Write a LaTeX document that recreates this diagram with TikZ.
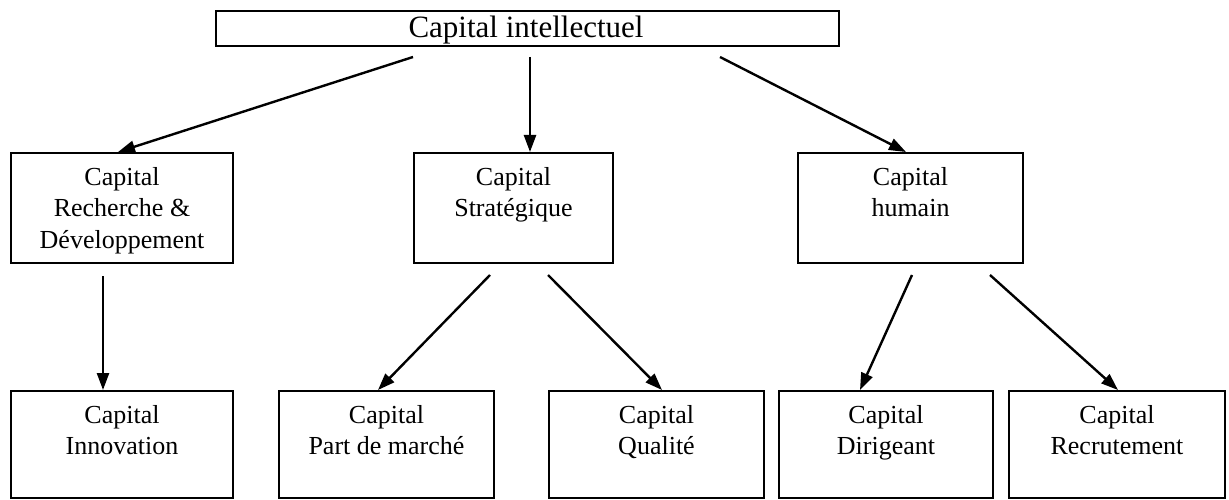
\documentclass[tikz,border=0pt]{standalone}
\usepackage{fontspec}
\setmainfont{Liberation Serif}
\usetikzlibrary{arrows.meta,calc}
\begin{document}
\begin{tikzpicture}[x=1pt,y=-1pt,
  box/.style={draw,line width=2pt,inner sep=0pt,anchor=north west},
  lbl/.style={anchor=north,align=center,font=\fontsize{26}{31.5}\selectfont,inner sep=0pt},
  arr/.style={line width=2.4pt,-{Triangle[length=17pt,width=12pt]}}]
\useasboundingbox (0,0) rectangle (1229,500);
% top
\node[box,minimum width=623pt,minimum height=35pt] (top) at (215,10) {};
\node[anchor=center,inner sep=0pt,font=\fontsize{31}{36}\selectfont] (toplbl) at (526,30) {Capital intellectuel};
% middle
\node[box,minimum width=222pt,minimum height=110pt] (rd) at (10,152) {};
\node[box,minimum width=199pt,minimum height=110pt] (st) at (413,152) {};
\node[box,minimum width=225pt,minimum height=110pt] (hu) at (797,152) {};
\node[lbl] (rdl) at ($(rd.north)+(0,15)$) {Capital\\Recherche \&\\Développement};
\node[lbl] (stl) at ($(st.north)+(0,15)$) {Capital\\Stratégique};
\node[lbl] (hul) at ($(hu.north)+(0,15)$) {Capital\\humain};
% bottom
\node[box,minimum width=222pt,minimum height=107pt] (in) at (10,390) {};
\node[box,minimum width=215pt,minimum height=107pt] (pm) at (278,390) {};
\node[box,minimum width=215pt,minimum height=107pt] (qu) at (548,390) {};
\node[box,minimum width=214pt,minimum height=107pt] (di) at (778,390) {};
\node[box,minimum width=216pt,minimum height=107pt] (re) at (1008,390) {};
\node[lbl] (inl) at ($(in.north)+(0,15)$) {Capital\\Innovation};
\node[lbl] (pml) at ($(pm.north)+(0,15)$) {Capital\\Part de marché};
\node[lbl] (qul) at ($(qu.north)+(0,15)$) {Capital\\Qualité};
\node[lbl] (dil) at ($(di.north)+(0,15)$) {Capital\\Dirigeant};
\node[lbl] (rel) at ($(re.north)+(0,15)$) {Capital\\Recrutement};
% arrows level 1
\coordinate (a1) at ($(top.south west)+(198,10)$);
\coordinate (a2) at ($(top.south west)+(315,10)$);
\coordinate (a3) at ($(top.south west)+(505,10)$);
\draw[arr] (a1) -- ($(rd.north west)+(108,0)$);
\draw[arr] (a2) -- (a2 |- st.north);
\draw[arr] (a3) -- ($(hu.north west)+(109,0)$);
% arrows level 2
\coordinate (b1) at ($(rd.south west)+(93,12)$);
\coordinate (b2) at ($(st.south west)+(77,11)$);
\coordinate (b3) at ($(st.south west)+(135,11)$);
\coordinate (b4) at ($(hu.south west)+(115,11)$);
\coordinate (b5) at ($(hu.south west)+(193,11)$);
\draw[arr] (b1) -- (b1 |- in.north);
\draw[arr] (b2) -- ($(pm.north west)+(100,0)$);
\draw[arr] (b3) -- ($(qu.north west)+(114,0)$);
\draw[arr] (b4) -- ($(di.north west)+(82,0)$);
\draw[arr] (b5) -- ($(re.north west)+(110,0)$);
\end{tikzpicture}
\end{document}
